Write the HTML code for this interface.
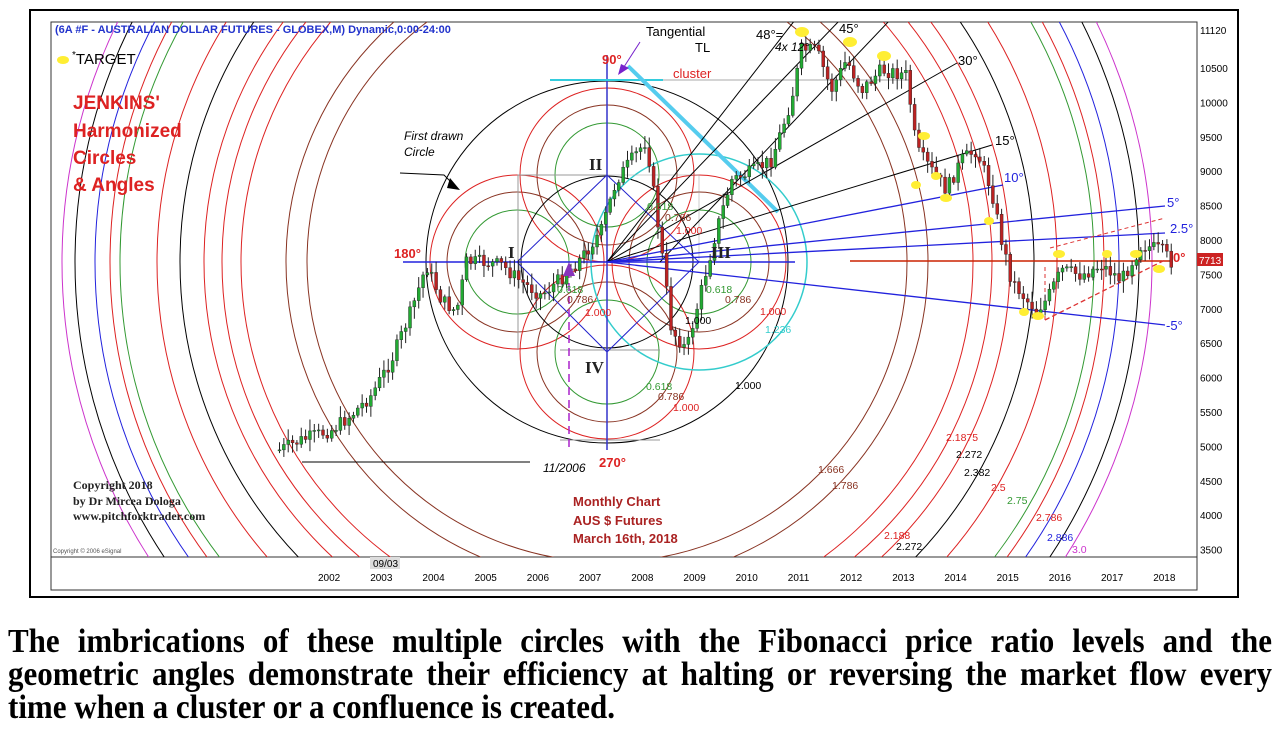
<!DOCTYPE html>
<html><head><meta charset="utf-8"><style>
html,body{margin:0;background:#fff;width:1279px;height:743px;overflow:hidden;font-family:"Liberation Sans",sans-serif}
.cap{position:absolute;left:8px;width:1264px;font-family:"Liberation Serif",serif;font-weight:bold;font-size:31px;line-height:33px;height:33px;color:#000;white-space:nowrap;transform:scaleY(1.1);transform-origin:0 50%}
.j{text-align:justify;text-align-last:justify;white-space:normal}
</style></head><body>
<svg width="1279" height="600" style="position:absolute;left:0;top:0" font-family="Liberation Sans, sans-serif">
<defs><clipPath id="pc"><rect x="51" y="22" width="1146" height="535"/></clipPath></defs>
<rect x="30" y="10" width="1208" height="587" fill="#fff" stroke="#000" stroke-width="2"/>
<rect x="51" y="22" width="1146" height="568" fill="#fff" stroke="#333" stroke-width="1"/>
<line x1="51" y1="557" x2="1197" y2="557" stroke="#333"/>
<line x1="1197" y1="22" x2="1197" y2="590" stroke="#333"/>
<g clip-path="url(#pc)" fill="none" stroke-width="1" id="arcs"></g>
<g clip-path="url(#pc)" fill="none">
<g id="sub"></g>
<circle cx="607" cy="262" r="181" stroke="#000"/>
<circle cx="607" cy="262" r="86" stroke="#000"/>
<circle cx="699" cy="262" r="108" stroke="#33cccc" stroke-width="1.5"/>
<rect x="518" y="175" width="89" height="87" stroke="#999"/>
<rect x="607" y="175" width="92" height="87" stroke="#999" opacity=".5"/>
<line x1="518" y1="175" x2="518" y2="350" stroke="#999"/>
<line x1="560" y1="350" x2="660" y2="350" stroke="#999"/>
<line x1="560" y1="440" x2="660" y2="440" stroke="#999"/>
<polygon points="607,175 699,262 607,352 517,262" stroke="#2222cc"/>
<line x1="607" y1="55" x2="607" y2="450" stroke="#3333cc" stroke-width="1.5"/>
<line x1="403" y1="262" x2="795" y2="262" stroke="#2222dd" stroke-width="1.5"/>
<line x1="569" y1="270" x2="569" y2="450" stroke="#aa22cc" stroke-width="1.5" stroke-dasharray="8,5"/>
<line x1="302" y1="462" x2="530" y2="462" stroke="#000"/>
<line x1="550" y1="80" x2="663" y2="80" stroke="#33ccdd" stroke-width="2"/>
<line x1="663" y1="80" x2="910" y2="80" stroke="#aaa"/>
<line x1="628" y1="66" x2="778" y2="212" stroke="#55ccee" stroke-width="4"/>
<line x1="640" y1="42" x2="622" y2="70" stroke="#7722cc"/>
<polygon points="618,75 621,64 629,68" fill="#7722cc"/>
<g stroke="#000"><line x1="607" y1="262" x2="795" y2="20"/><line x1="607" y1="262" x2="840" y2="20"/><line x1="660" y1="262" x2="890" y2="20"/><line x1="607" y1="262" x2="957" y2="63"/><line x1="607" y1="262" x2="992" y2="145"/></g>
<g stroke="#2222dd" stroke-width="1.3"><line x1="607" y1="262" x2="1003" y2="185"/><line x1="607" y1="262" x2="1165" y2="206"/><line x1="607" y1="262" x2="1165" y2="233"/><line x1="607" y1="262" x2="1165" y2="325"/></g>
<line x1="850" y1="261" x2="1172" y2="261" stroke="#cc2200" stroke-width="1.5"/>
<line x1="1050" y1="248" x2="1165" y2="218" stroke="#dd3333" stroke-dasharray="4,3"/>
<line x1="1045" y1="320" x2="1165" y2="260" stroke="#dd3333" stroke-width="1.3" stroke-dasharray="5,3"/>
<line x1="1045" y1="320" x2="1045" y2="265" stroke="#dd3333" stroke-dasharray="4,3"/>
<g id="candles"></g>
<g fill="#ffee33" stroke="none">
<ellipse cx="802" cy="32" rx="7" ry="5"/><ellipse cx="850" cy="42" rx="7" ry="5"/><ellipse cx="884" cy="56" rx="7" ry="5"/><ellipse cx="924" cy="136" rx="6" ry="4"/><ellipse cx="936" cy="176" rx="5" ry="4"/><ellipse cx="916" cy="185" rx="5" ry="4"/><ellipse cx="946" cy="198" rx="6" ry="4"/><ellipse cx="989" cy="221" rx="5" ry="4"/><ellipse cx="1059" cy="254" rx="6" ry="4"/><ellipse cx="1107" cy="254" rx="5" ry="4"/><ellipse cx="1136" cy="254" rx="6" ry="4"/><ellipse cx="1159" cy="269" rx="6" ry="4"/><ellipse cx="1024" cy="312" rx="5" ry="4"/><ellipse cx="1038" cy="316" rx="6" ry="4"/>
</g>
</g>
<polygon points="569,262 563,276 575,276" fill="#8833bb"/>
<ellipse cx="63" cy="60" rx="6" ry="4" fill="#ffee33"/>
<text x="55" y="33" font-size="11" font-weight="bold" fill="#2233cc">(6A #F - AUSTRALIAN DOLLAR FUTURES - GLOBEX,M) Dynamic,0:00-24:00</text>
<text x="72" y="64" font-size="15" fill="#000"><tspan font-size="10" dy="-6">*</tspan><tspan dy="6">TARGET</tspan></text>
<g font-size="19" font-weight="bold" fill="#dd2222"><text x="73" y="109">JENKINS'</text><text x="73" y="137">Harmonized</text><text x="73" y="164">Circles</text><text x="73" y="191">&amp; Angles</text></g>
<g font-size="12" font-style="italic" fill="#000"><text x="404" y="140">First drawn</text><text x="404" y="156">Circle</text><text x="543" y="472">11/2006</text><text x="775" y="51">4x 12°</text></g>
<polyline points="400,173 444,175 455,186" fill="none" stroke="#000"/>
<polygon points="450,178 460,190 447,188" fill="#000"/>
<g font-family="Liberation Serif, serif" font-weight="bold" font-size="17" fill="#222"><text x="589" y="170">II</text><text x="508" y="258">I</text><text x="711" y="258">III</text><text x="585" y="373">IV</text></g>
<g font-size="13" fill="#dd2222" font-weight="bold"><text x="602" y="64">90°</text><text x="394" y="258">180°</text><text x="599" y="467">270°</text><text x="1173" y="262">0°</text></g>
<text x="673" y="78" font-size="13" fill="#dd2222">cluster</text>
<text x="646" y="36" font-size="13" fill="#000">Tangential</text><text x="695" y="52" font-size="13" fill="#000">TL</text>
<g font-size="13" fill="#000"><text x="756" y="39">48°=</text><text x="839" y="33">45°</text><text x="958" y="65">30°</text><text x="995" y="145">15°</text></g>
<g font-size="13" fill="#2222dd"><text x="1004" y="182">10°</text><text x="1167" y="207">5°</text><text x="1170" y="233">2.5°</text><text x="1166" y="330">-5°</text></g>
<g font-size="10.5" fill="#339933"><text x="557" y="293">0.618</text><text x="706" y="293">0.618</text><text x="646" y="390">0.618</text><text x="647" y="210">0.618</text><text x="1007" y="504">2.75</text></g>
<g font-size="10.5" fill="#883322"><text x="567" y="303">0.786</text><text x="725" y="303">0.786</text><text x="658" y="400">0.786</text><text x="665" y="221">0.786</text><text x="818" y="473">1.666</text><text x="832" y="489">1.786</text></g>
<g font-size="10.5" fill="#dd2222"><text x="585" y="316">1.000</text><text x="760" y="315">1.000</text><text x="673" y="411">1.000</text><text x="676" y="234">1.000</text><text x="946" y="441">2.1875</text><text x="991" y="491">2.5</text><text x="1036" y="521">2.786</text><text x="884" y="539">2.188</text></g>
<g font-size="10.5" fill="#000"><text x="685" y="324">1.000</text><text x="735" y="389">1.000</text><text x="956" y="458">2.272</text><text x="964" y="476">2.382</text><text x="896" y="550">2.272</text></g>
<text x="765" y="333" font-size="10.5" fill="#33cccc">1.236</text>
<text x="1047" y="541" font-size="10.5" fill="#2222dd">2.886</text>
<text x="1072" y="553" font-size="10.5" fill="#cc33cc">3.0</text>
<g font-family="Liberation Serif, serif" font-weight="bold" font-size="12" fill="#222"><text x="73" y="489">Copyright 2018</text><text x="73" y="505">by Dr Mircea Dologa</text><text x="73" y="520">www.pitchforktrader.com</text></g>
<g font-size="13" font-weight="bold" fill="#aa2222"><text x="573" y="506">Monthly Chart</text><text x="573" y="525">AUS $ Futures</text><text x="573" y="543">March 16th, 2018</text></g>
<text x="53" y="553" font-size="6" fill="#555">Copyright © 2006 eSignal</text>
<rect x="370" y="557" width="30" height="12" fill="#ddd"/><text x="373" y="567" font-size="10" fill="#000">09/03</text>
<g font-size="10" fill="#000" id="years"></g>
<g font-size="10" fill="#000" id="prices"></g>
<rect x="1197" y="253" width="26" height="13" fill="#cc2222"/><text x="1199" y="264" font-size="10" fill="#fff">7713</text>
</svg>
<div class="cap j" style="top:624px">The imbrications of these multiple circles with the Fibonacci price ratio levels and the</div>
<div class="cap j" style="top:657px">geometric angles demonstrate their efficiency at halting or reversing the market flow every</div>
<div class="cap" style="top:690px">time when a cluster or a confluence is created.</div>
<script>
var NS="http://www.w3.org/2000/svg";
function el(p,t,a,txt){var e=document.createElementNS(NS,t);for(var k in a)e.setAttribute(k,a[k]);if(txt)e.textContent=txt;p.appendChild(e);return e;}
var arcs=document.getElementById('arcs');
[[300,'#883322'],[321,'#883322'],[366,'#dd2222'],[385,'#dd2222'],[403,'#dd2222'],[427,'#000'],[450,'#dd2222'],[487,'#339933'],[497,'#dd2222'],[512,'#2222dd'],[532,'#000'],[545,'#cc33cc']].forEach(function(a){el(arcs,'circle',{cx:607,cy:262,r:a[0],stroke:a[1]});});
var sub=document.getElementById('sub');
[[517,262],[607,175],[699,262],[607,352]].forEach(function(c){
 el(sub,'circle',{cx:c[0],cy:c[1],r:52,stroke:'#339933'});
 el(sub,'circle',{cx:c[0],cy:c[1],r:70,stroke:'#883322'});
 el(sub,'circle',{cx:c[0],cy:c[1],r:87,stroke:'#dd2222'});});
var yrs=document.getElementById('years');
for(var i=0;i<17;i++)el(yrs,'text',{x:318+i*52.2,y:581},String(2002+i));
var pr=document.getElementById('prices');
el(pr,'text',{x:1200,y:34},'11120');
for(var p=10500,j=0;p>=3500;p-=500,j++)el(pr,'text',{x:1200,y:72+j*34.4},String(p));
var K=[[278,450],[300,440],[330,430],[350,415],[370,395],[390,360],[410,310],[425,265],[440,300],[455,312],[465,262],[480,262],[500,265],[520,282],[540,295],[560,278],[580,258],[600,230],[615,180],[630,160],[645,140],[660,250],[670,330],[685,350],[700,290],[715,230],[730,180],[750,172],[770,160],[790,100],[800,50],[815,50],[830,90],[845,60],[860,90],[880,70],[905,75],[915,150],[930,170],[945,190],[960,160],[975,150],[990,190],[1000,240],[1010,280],[1025,300],[1035,310],[1045,300],[1060,270],[1080,275],[1100,265],[1120,280],[1140,245],[1160,250],[1170,262]];
function yat(x){for(var i=0;i<K.length-1;i++){if(x>=K[i][0]&&x<=K[i+1][0]){var t=(x-K[i][0])/(K[i+1][0]-K[i][0]);return K[i][1]+t*(K[i+1][1]-K[i][1]);}}return 262;}
var cg=document.getElementById('candles');var s=7;function rnd(){s=(s*9301+49297)%233280;return s/233280;}
var prev=yat(278);
for(var x=278;x<=1170;x+=4.35){var c=yat(x)+(rnd()-0.5)*14;var o=prev;var hi=Math.min(o,c)-rnd()*10-2,lo=Math.max(o,c)+rnd()*10+2;
el(cg,'line',{x1:x+1.5,y1:hi,x2:x+1.5,y2:lo,stroke:'#222'});
el(cg,'rect',{x:x,y:Math.min(o,c),width:3,height:Math.max(1,Math.abs(o-c)),fill:c<o?'#22aa33':'#bb2222',stroke:'#222','stroke-width':0.4});prev=c;}
</script>
</body></html>
